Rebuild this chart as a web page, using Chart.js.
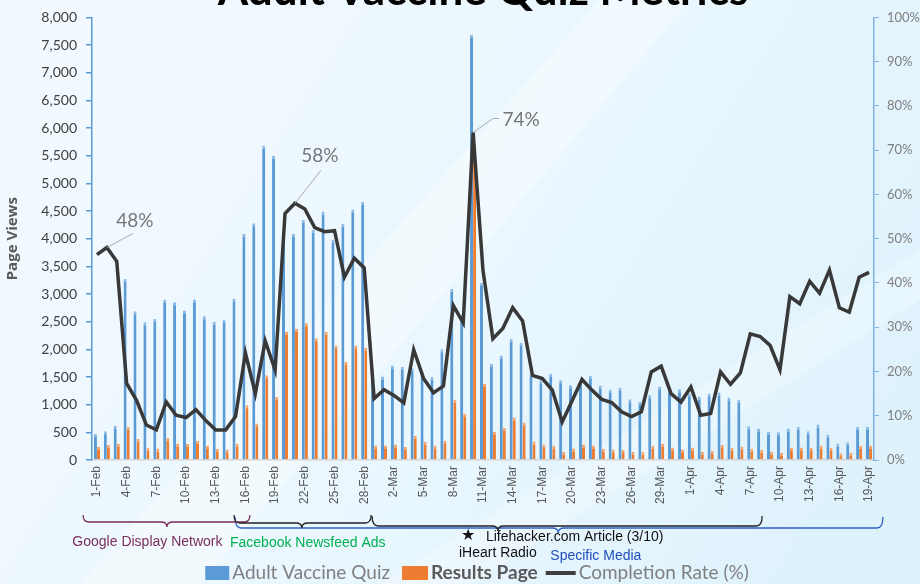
<!DOCTYPE html>
<html>
<head>
<meta charset="utf-8">
<title>Adult Vaccine Quiz Metrics</title>
<script src="https://cdn.jsdelivr.net/npm/chart.js@4.4.1/dist/chart.umd.min.js"></script>
<style>
    html, body { margin: 0; padding: 0; background: #eaf6fd; }
    #wrap { width: 920px; height: 584px; position: relative; overflow: hidden; }
</style>
</head>
<body>
<div id="wrap"><canvas id="metricsChart" width="920" height="584"></canvas></div>
<script>
// ======================================
// DATA
// ======================================
const days = [
    "1-Feb","2-Feb","3-Feb","4-Feb","5-Feb","6-Feb","7-Feb","8-Feb","9-Feb","10-Feb",
    "11-Feb","12-Feb","13-Feb","14-Feb","15-Feb","16-Feb","17-Feb","18-Feb","19-Feb","20-Feb",
    "21-Feb","22-Feb","23-Feb","24-Feb","25-Feb","26-Feb","27-Feb","28-Feb","29-Feb",
    "1-Mar","2-Mar","3-Mar","4-Mar","5-Mar","6-Mar","7-Mar","8-Mar","9-Mar","10-Mar",
    "11-Mar","12-Mar","13-Mar","14-Mar","15-Mar","16-Mar","17-Mar","18-Mar","19-Mar","20-Mar",
    "21-Mar","22-Mar","23-Mar","24-Mar","25-Mar","26-Mar","27-Mar","28-Mar","29-Mar","30-Mar","31-Mar",
    "1-Apr","2-Apr","3-Apr","4-Apr","5-Apr","6-Apr","7-Apr","8-Apr","9-Apr","10-Apr",
    "11-Apr","12-Apr","13-Apr","14-Apr","15-Apr","16-Apr","17-Apr","18-Apr","19-Apr"
];

// page views of the quiz start page
const quizViews = [
    470, 520, 620, 3270, 2690, 2490, 2550, 2900, 2850, 2700,
    2900, 2600, 2500, 2530, 2920, 4090, 4280, 5680, 5500, 4130,
    4090, 4340, 4160, 4490, 3980, 4270, 4530, 4670, 1650,
    1510, 1710, 1680, 1660, 1590, 1500, 2000, 3090, 2610, 7680,
    3200, 1740, 1890, 2190, 2120, 1560, 1440, 1560, 1440, 1350,
    1390, 1520, 1345, 1270, 1310, 1100, 1050, 1170, 1330, 1270, 1280,
    1200, 1150, 1200, 1220, 1130, 1090, 610, 570, 510, 500,
    570, 600, 520, 640, 460, 300, 320, 600, 595
];

// page views of the results page
const resultViews = [
    240, 270, 300, 600, 380, 220, 210, 400, 300, 290,
    350, 260, 200, 190, 300, 990, 660, 1530, 1140, 2320,
    2370, 2470, 2200, 2320, 2070, 1770, 2070, 2030, 260,
    260, 280, 240, 440, 330, 260, 350, 1090, 840, 5710,
    1380, 505, 580, 770, 680, 336, 282, 264, 150, 210,
    282, 264, 204, 192, 180, 150, 150, 258, 300, 228, 192,
    216, 150, 162, 270, 222, 240, 198, 180, 150, 132,
    228, 228, 228, 258, 222, 120, 132, 258, 258
];

// completion rate in %
const completionRate = [
    46.4, 48, 44.9, 17.3, 13.5, 7.9, 6.8, 13.1, 10.1, 9.6,
    11.4, 8.9, 6.8, 6.8, 9.8, 24.2, 15.0, 26.9, 20.3, 55.7,
    58, 56.7, 52.5, 51.6, 51.8, 41.3, 45.6, 43.4, 13.9,
    15.9, 14.6, 12.9, 24.9, 18.4, 15.2, 16.7, 34.9, 31.0, 74,
    42.8, 27.4, 29.7, 34.4, 31.4, 19.1, 18.4, 15.8, 8.6, 13.4,
    18.2, 15.8, 13.7, 13.0, 10.9, 9.8, 10.9, 19.9, 21.2, 15.0, 13.1,
    16.5, 10.1, 10.5, 19.9, 17.1, 19.7, 28.5, 27.9, 25.9, 20.4,
    36.9, 35.3, 40.4, 37.7, 42.9, 34.4, 33.4, 41.3, 42.4
];

const calloutDays = ["2-Feb", "21-Feb", "10-Mar"];

// ======================================
// COLOURS / FONTS
// ======================================
const BLUE = "#5b9bd5";
const ORANGE = "#ed7d31";
const LINE = "#383838";
const SANS = "'Liberation Sans', Arial, sans-serif";
const LATO = "Lato, 'Open Sans', sans-serif";

// ======================================
// PLUGINS
// ======================================
const backdrop = {
    id: "backdrop",
    beforeDraw(chart) {
        const c = chart.ctx;
        const w = chart.width, h = chart.height;
        c.save();
        const g = c.createLinearGradient(0, 0, w, h);
        g.addColorStop(0, "#f3faff");
        g.addColorStop(0.5, "#eaf7fe");
        g.addColorStop(1, "#dcf1fb");
        c.fillStyle = g;
        c.fillRect(0, 0, w, h);
        // faint diagonal light bands
        c.fillStyle = "rgba(255,255,255,0.35)";
        c.beginPath();
        c.moveTo(80, h); c.lineTo(600, 0); c.lineTo(690, 0); c.lineTo(200, h);
        c.closePath(); c.fill();
        c.fillStyle = "rgba(255,255,255,0.25)";
        c.beginPath();
        c.moveTo(380, h); c.lineTo(w, 250); c.lineTo(w, 300); c.lineTo(470, h);
        c.closePath(); c.fill();
        c.restore();
    }
};

function brace(c, x1, x2, tip, y, h, color) {
    const r = 6;
    c.strokeStyle = color;
    c.lineWidth = 1.3;
    c.beginPath();
    c.moveTo(x1, y - h);
    c.quadraticCurveTo(x1, y, x1 + r, y);
    c.lineTo(tip - r, y);
    c.quadraticCurveTo(tip, y, tip, y + 5);
    c.quadraticCurveTo(tip, y, tip + r, y);
    c.lineTo(x2 - r, y);
    c.quadraticCurveTo(x2, y, x2, y - h);
    c.stroke();
}

const extras = {
    id: "extras",
    afterDatasetsDraw(chart) {
        const c = chart.ctx;
        const xs = chart.scales.x;
        const yr = chart.scales.yRate;
        const step = xs.getPixelForValue(1) - xs.getPixelForValue(0);
        const px = (i) => xs.getPixelForValue(0) + i * step;

        c.save();
        // callouts on the completion line
        const offs = [
            { lx: 26, ly: -14, tx: 28, ty: -27, flat: 0 },
            { lx: 26, ly: -33, tx: 25, ty: -47, flat: 0 },
            { lx: 20, ly: -14, tx: 48, ty: -13, flat: 6 }
        ];
        calloutDays.forEach((d, k) => {
            const i = days.indexOf(d);
            const x = px(i), y = yr.getPixelForValue(completionRate[i]);
            const o = offs[k];
            c.strokeStyle = "#a9a9a9";
            c.lineWidth = 1;
            c.beginPath();
            c.moveTo(x, y);
            c.lineTo(x + o.lx, y + o.ly);
            if (o.flat) c.lineTo(x + o.lx + o.flat, y + o.ly);
            c.stroke();
            c.fillStyle = "#767676";
            c.font = "19px " + LATO;
            c.textAlign = "center";
            c.textBaseline = "middle";
            c.fillText(Math.round(completionRate[i]) + "%", x + o.tx, y + o.ty);
        });
        c.restore();
    },
    afterDraw(chart) {
        const c = chart.ctx;
        const xs = chart.scales.x;
        const step = xs.getPixelForValue(1) - xs.getPixelForValue(0);
        const px = (i) => xs.getPixelForValue(0) + i * step;

        c.save();
        // title (runs off the top of the slide)
        c.fillStyle = "#000";
        c.font = "bold 44px " + LATO;
        c.textAlign = "center";
        c.textBaseline = "alphabetic";
        c.fillText("Adult Vaccine Quiz Metrics", 483, 5);

        // campaign braces
        brace(c, px(13.95), px(79.4), px(46.6), 528, 11, "#2e62c9");
        brace(c, px(27.8), px(67.2), px(40.5), 526, 10, "#222");
        brace(c, px(-1.4), px(15.45), px(7.07), 522, 7, "#7b2d5c");
        brace(c, px(13.85), px(27.7), px(20.7), 523, 8, "#222");

        c.font = "14px " + SANS;
        c.textAlign = "center";
        c.textBaseline = "middle";
        c.fillStyle = "#7b2d5c";
        c.fillText("Google Display Network", px(5.1), 542);
        c.fillStyle = "#00b050";
        c.fillText("Facebook Newsfeed Ads", px(21.3), 543);
        c.fillStyle = "#111";
        c.fillText("iHeart Radio", px(40.5), 553);
        c.fillStyle = "#1f4fbf";
        c.fillText("Specific Media", px(50.4), 556);
        c.fillStyle = "#111";
        c.textAlign = "left";
        c.font = "16px " + SANS;
        c.fillText("\u2605", px(37.5) - 7, 536);
        c.font = "14px " + SANS;
        c.fillText("Lifehacker.com Article (3/10)", px(39.3), 537);

        // legend
        const y = 573;
        c.font = "19px " + LATO;
        const w1 = c.measureText("Adult Vaccine Quiz").width;
        c.font = "bold 19px " + LATO;
        const w2 = c.measureText("Results Page").width;
        c.font = "19px " + LATO;
        const w3 = c.measureText("Completion Rate (%)").width;
        const total = 24 + 3 + w1 + 12 + 26 + 3 + w2 + 8 + 30 + 3 + w3;
        let x = 477 - total / 2;
        c.textAlign = "left";
        c.fillStyle = BLUE;
        c.fillRect(x, y - 7, 24, 14);
        x += 27;
        c.fillStyle = "#7f7f7f";
        c.fillText("Adult Vaccine Quiz", x, y);
        x += w1 + 12;
        c.fillStyle = ORANGE;
        c.fillRect(x, y - 7, 26, 14);
        x += 29;
        c.font = "bold 19px " + LATO;
        c.fillStyle = "#595959";
        c.fillText("Results Page", x, y);
        x += w2 + 8;
        c.strokeStyle = "#404040";
        c.lineWidth = 4;
        c.beginPath(); c.moveTo(x, y); c.lineTo(x + 30, y); c.stroke();
        x += 33;
        c.font = "19px " + LATO;
        c.fillStyle = "#7f7f7f";
        c.fillText("Completion Rate (%)", x, y);
        c.restore();
    }
};

// ======================================
// CHART INIT
// ======================================
const ctx = document.getElementById("metricsChart");
const chart = new Chart(ctx, {
    type: "bar",
    data: {
        labels: days,
        datasets: [
            {
                type: "line",
                label: "Completion Rate (%)",
                data: completionRate,
                yAxisID: "yRate",
                borderColor: LINE,
                borderWidth: 3.5,
                pointRadius: 0,
                tension: 0,
                order: 0
            },
            {
                label: "Adult Vaccine Quiz",
                data: quizViews,
                yAxisID: "yViews",
                backgroundColor: BLUE,
                borderColor: "#8dbbe6",
                borderWidth: { top: 3, left: 0, right: 0, bottom: 0 },
                categoryPercentage: 0.62,
                barPercentage: 1,
                order: 1
            },
            {
                label: "Results Page",
                data: resultViews,
                yAxisID: "yViews",
                backgroundColor: ORANGE,
                borderColor: "#f5a66e",
                borderWidth: { top: 3, left: 0, right: 0, bottom: 0 },
                categoryPercentage: 0.62,
                barPercentage: 1,
                order: 1
            }
        ]
    },
    options: {
        responsive: false,
        animation: false,
        layout: { padding: { top: 16, left: 0, right: 0, bottom: 0 } },
        plugins: {
            legend: { display: false },
            tooltip: { enabled: false },
            title: { display: false }
        },
        scales: {
            x: {
                grid: { display: false, drawTicks: false },
                border: { color: "#d4d4d4", width: 1.5 },
                ticks: {
                    autoSkip: false,
                    minRotation: 90,
                    maxRotation: 90,
                    padding: 6,
                    color: "#595959",
                    font: { family: SANS, size: 12 },
                    callback: function (v, i) {
                        return i % 3 === 0 ? this.getLabelForValue(v) : "";
                    }
                },
                afterFit: (s) => { s.height = 124; }
            },
            yViews: {
                position: "left",
                min: 0,
                max: 8000,
                ticks: {
                    stepSize: 500,
                    padding: 9,
                    color: "#404040",
                    font: { family: LATO, size: 14 },
                    callback: (v) => v.toLocaleString("en-US")
                },
                grid: { drawOnChartArea: false, color: BLUE, tickLength: 6, lineWidth: 1.5 },
                border: { color: BLUE, width: 1.5 },
                title: {
                    display: true,
                    text: "Page Views",
                    color: "#595959",
                    font: { family: "'Open Sans', sans-serif", size: 15, weight: "bold" },
                    padding: { top: 4, bottom: 0 }
                },
                afterFit: (s) => { s.width = 92; }
            },
            yRate: {
                position: "right",
                min: 0,
                max: 100,
                ticks: {
                    stepSize: 10,
                    padding: 8,
                    color: "#7f7f7f",
                    font: { family: LATO, size: 13 },
                    callback: (v) => v + "%"
                },
                grid: { drawOnChartArea: false, color: "#7fb2e5", tickLength: 5 },
                border: { color: "#7fb2e5", width: 1.5 },
                afterFit: (s) => { s.width = 46; }
            }
        }
    },
    plugins: [backdrop, extras]
});
</script>
</body>
</html>
